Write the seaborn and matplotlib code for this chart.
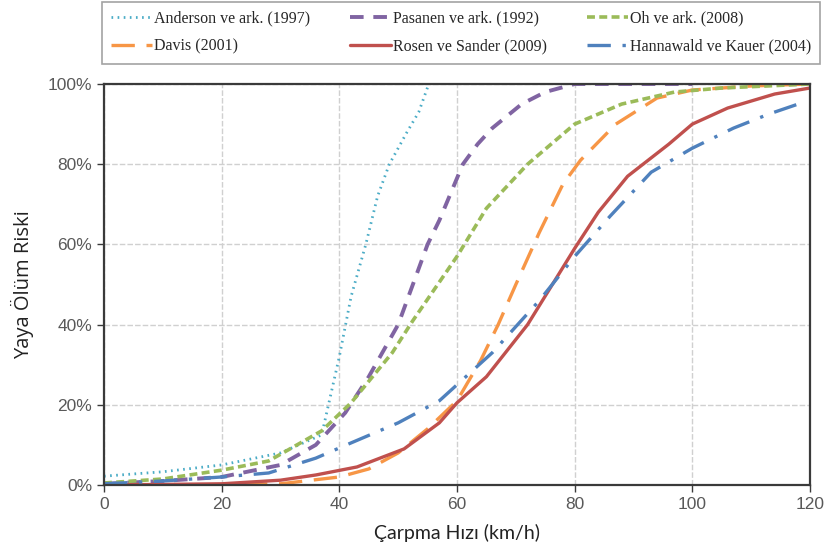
import matplotlib
matplotlib.use("Agg")
import matplotlib.pyplot as plt
import matplotlib.ticker as mticker
import numpy as np
import pandas as pd
import seaborn as sns

# impact speed (km/h) vs pedestrian fatality risk (%)
anderson_x = [0, 10, 20, 30, 37, 40, 42, 44.5, 46.5, 48.5, 51.5, 53.5, 55.2]
anderson_y = [2.2, 3.3, 5, 8, 12.5, 32, 47, 60, 72, 80, 88, 93, 100]

pasanen_x = [0, 10, 20, 30, 36, 41, 45, 50, 52, 55, 57, 59, 61, 63.5, 66, 71, 75, 80, 90, 100]
pasanen_y = [0.3, 1, 2, 5, 10, 18, 27, 40, 48, 60, 66, 73, 80, 85, 89, 95, 98, 100, 100, 100]

oh_x = [0, 10, 20, 28, 37, 42, 49, 52.5, 60, 65, 72, 80, 88, 97, 105, 120]
oh_y = [0.5, 1.5, 3.7, 6, 13.5, 20.5, 33, 41, 57, 69, 80, 90, 95, 98, 99, 100]

davis_x = [0, 20, 30, 40, 45, 50, 55, 60, 64, 67, 70, 74, 78, 81, 87, 94, 100, 110, 120]
davis_y = [0, 0, 0.3, 2, 4, 8, 14, 21, 31, 40, 50, 63, 75, 81, 90, 96.5, 98.5, 99.5, 100]

rosen_x = [0, 20, 30, 36, 43, 51, 57, 60, 65, 72, 80, 84, 89, 96, 100, 106, 114, 120]
rosen_y = [0, 0.3, 1.2, 2.5, 4.5, 9, 15.5, 20.5, 27, 40, 59, 68, 77, 85, 90, 94, 97.5, 99]

hannawald_x = [0, 10, 20, 28, 36, 42, 50, 57, 60, 66, 74, 80, 86, 93, 100, 107, 113, 119]
hannawald_y = [0.3, 1, 2, 3, 6.7, 10.5, 15.5, 21, 25, 33, 46, 57, 67, 78, 84, 89, 92.5, 95.5]

labels = [
    "Anderson ve ark. (1997)",
    "Davis (2001)",
    "Pasanen ve ark. (1992)",
    "Rosen ve Sander (2009)",
    "Oh ve ark. (2008)",
    "Hannawald ve Kauer (2004)",
]
series = [
    (anderson_x, anderson_y),
    (davis_x, davis_y),
    (pasanen_x, pasanen_y),
    (rosen_x, rosen_y),
    (oh_x, oh_y),
    (hannawald_x, hannawald_y),
]
styles = [
    dict(color="#4bacc6", linestyle=(0, (0.6, 1.6)), linewidth=2.0),
    dict(color="#f79646", linestyle=(0, (7, 3.5)), linewidth=2.4),
    dict(color="#8064a2", linestyle=(0, (3.5, 2.5)), linewidth=2.8),
    dict(color="#c0504d", linestyle="-", linewidth=2.4),
    dict(color="#9bbb59", linestyle=(0, (2.2, 1.2)), linewidth=2.6),
    dict(color="#4f81bd", linestyle=(0, (7, 3.5, 1, 3.5)), linewidth=2.4),
]

sns.set_style("whitegrid")
plt.rcParams["font.family"] = ["Liberation Sans", "DejaVu Sans"]

fig = plt.figure(figsize=(8.26, 5.55), dpi=100)
ax = fig.add_axes([104 / 826, 1 - 485 / 555, 706 / 826, 401 / 555])

for label, (xs, ys), st in zip(labels, series, styles):
    df = pd.DataFrame({"hiz": xs, "risk": ys})
    sns.lineplot(data=df, x="hiz", y="risk", ax=ax, label=label, **st)

ax.set_xlim(0, 120)
ax.set_ylim(0, 100)
ax.set_xticks(np.arange(0, 121, 20))
ax.set_yticks(np.arange(0, 101, 20))
ax.yaxis.set_major_formatter(mticker.FuncFormatter(lambda v, _: f"{int(v)}%"))
ax.grid(True, color="#d0d0d0", linestyle=(0, (4, 1.5)), linewidth=1.0)
for sp in ax.spines.values():
    sp.set_color("#3a3a3a")
    sp.set_linewidth(1.6)
ax.tick_params(axis="both", colors="#3a3a3a", labelcolor="#595959", labelsize=12.5,
               length=5, width=1, direction="out", left=True, bottom=True)

ax.set_xlabel("Çarpma Hızı (km/h)", family=["Lato", "DejaVu Sans"], fontsize=14,
              color="#222222", labelpad=9)
ax.set_ylabel("Yaya Ölüm Riski", family=["Open Sans", "DejaVu Sans"], fontsize=14.5,
              color="#222222", labelpad=10)

ax.get_legend().remove()
handles, lbls = ax.get_legend_handles_labels()
leg = fig.legend(handles, lbls, ncol=3, loc="upper left",
                 bbox_to_anchor=(102 / 826, 1 - 60 / 555, 718 / 826, 58 / 555),
                 mode="expand", frameon=True, fancybox=False,
                 prop={"family": "Liberation Serif", "size": 11.5},
                 handlelength=2.6, handletextpad=0.1, columnspacing=1.0,
                 labelspacing=0.75, borderaxespad=0, borderpad=0.55)
leg.get_frame().set_edgecolor("#8c8c8c")
leg.get_frame().set_linewidth(1.2)

fig.savefig("out.png", dpi=100)
